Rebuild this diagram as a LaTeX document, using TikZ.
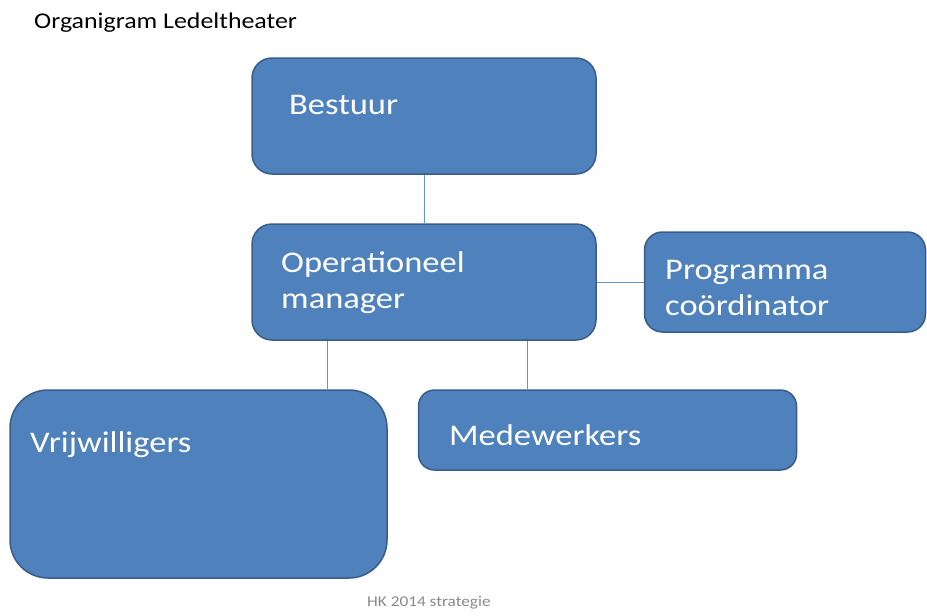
\documentclass[tikz,border=0pt]{standalone}
\usepackage{fontspec}
\setmainfont{Carlito}[FakeStretch=1.15]
\usetikzlibrary{calc}
\definecolor{orgblauw}{RGB}{79,129,189}
\definecolor{orgrand}{RGB}{56,93,138}
\definecolor{orglijn}{RGB}{100,150,205}
\definecolor{orggrijs}{RGB}{137,137,137}
\newcommand{\boxrand}{1.5pt}
\newcommand{\hoek}{20pt}
\tikzset{
  orgbox/.style={draw=orgrand, fill=orgblauw, line width=\boxrand, rounded corners=\hoek, inner sep=0pt},
  orgtekst/.style={text=white, inner sep=0pt, anchor=base west, align=left,
    font=\fontsize{30}{36}\selectfont},
  verbinding/.style={draw=orglijn, line width=0.8pt}
}

\begin{document}
\begin{tikzpicture}[x=1pt,y=-1pt]
\useasboundingbox (0,0) rectangle (927,616);
%titel
\node[anchor=base west, inner sep=0pt, font=\fontsize{22.5}{27}\selectfont] (titel) at (34,28) {Organigram Ledeltheater};
%blokken
\node[orgbox, minimum width=344pt, minimum height=116pt] (bestuur) at (424,116) {};
\node[orgbox, minimum width=344pt, minimum height=116pt] (opman) at (424,282) {};
\node[orgbox, minimum width=281pt, minimum height=100pt, rounded corners=18pt] (prog) at (785,282) {};
\node[orgbox, minimum width=377pt, minimum height=188pt, rounded corners=38pt] (vrij) at (198.5,484) {};
\node[orgbox, minimum width=378pt, minimum height=80pt, rounded corners=16pt] (mede) at (607.5,430) {};
%teksten (bij twee regels: basislijn van de laatste regel)
\node[orgtekst] (bestuurtekst) at (289,114) {Bestuur};
\node[orgtekst] (opmantekst) at (281,308) {Operationeel\\manager};
\node[orgtekst] (progtekst) at (665,315) {Programma\\coördinator};
\node[orgtekst] (vrijtekst) at (30,452) {Vrijwilligers};
\node[orgtekst] (medetekst) at (449,445) {Medewerkers};
%lijnen
\draw[verbinding] (bestuur) -- (opman);
\draw[verbinding] (opman) -- (prog);
\coordinate (vrijtak) at ($(opman.south west)+(76,0)$);
\coordinate (medetak) at ($(opman.south west)+(276,0)$);
\draw[verbinding] (vrijtak) -- (vrijtak |- vrij.north);
\draw[verbinding] (medetak) -- (medetak |- mede.north);
%voet
\node[anchor=base west, inner sep=0pt, text=orggrijs, font=\fontsize{15}{18}\selectfont] (voet) at (367,606) {HK 2014 strategie};
\end{tikzpicture}
\end{document}
